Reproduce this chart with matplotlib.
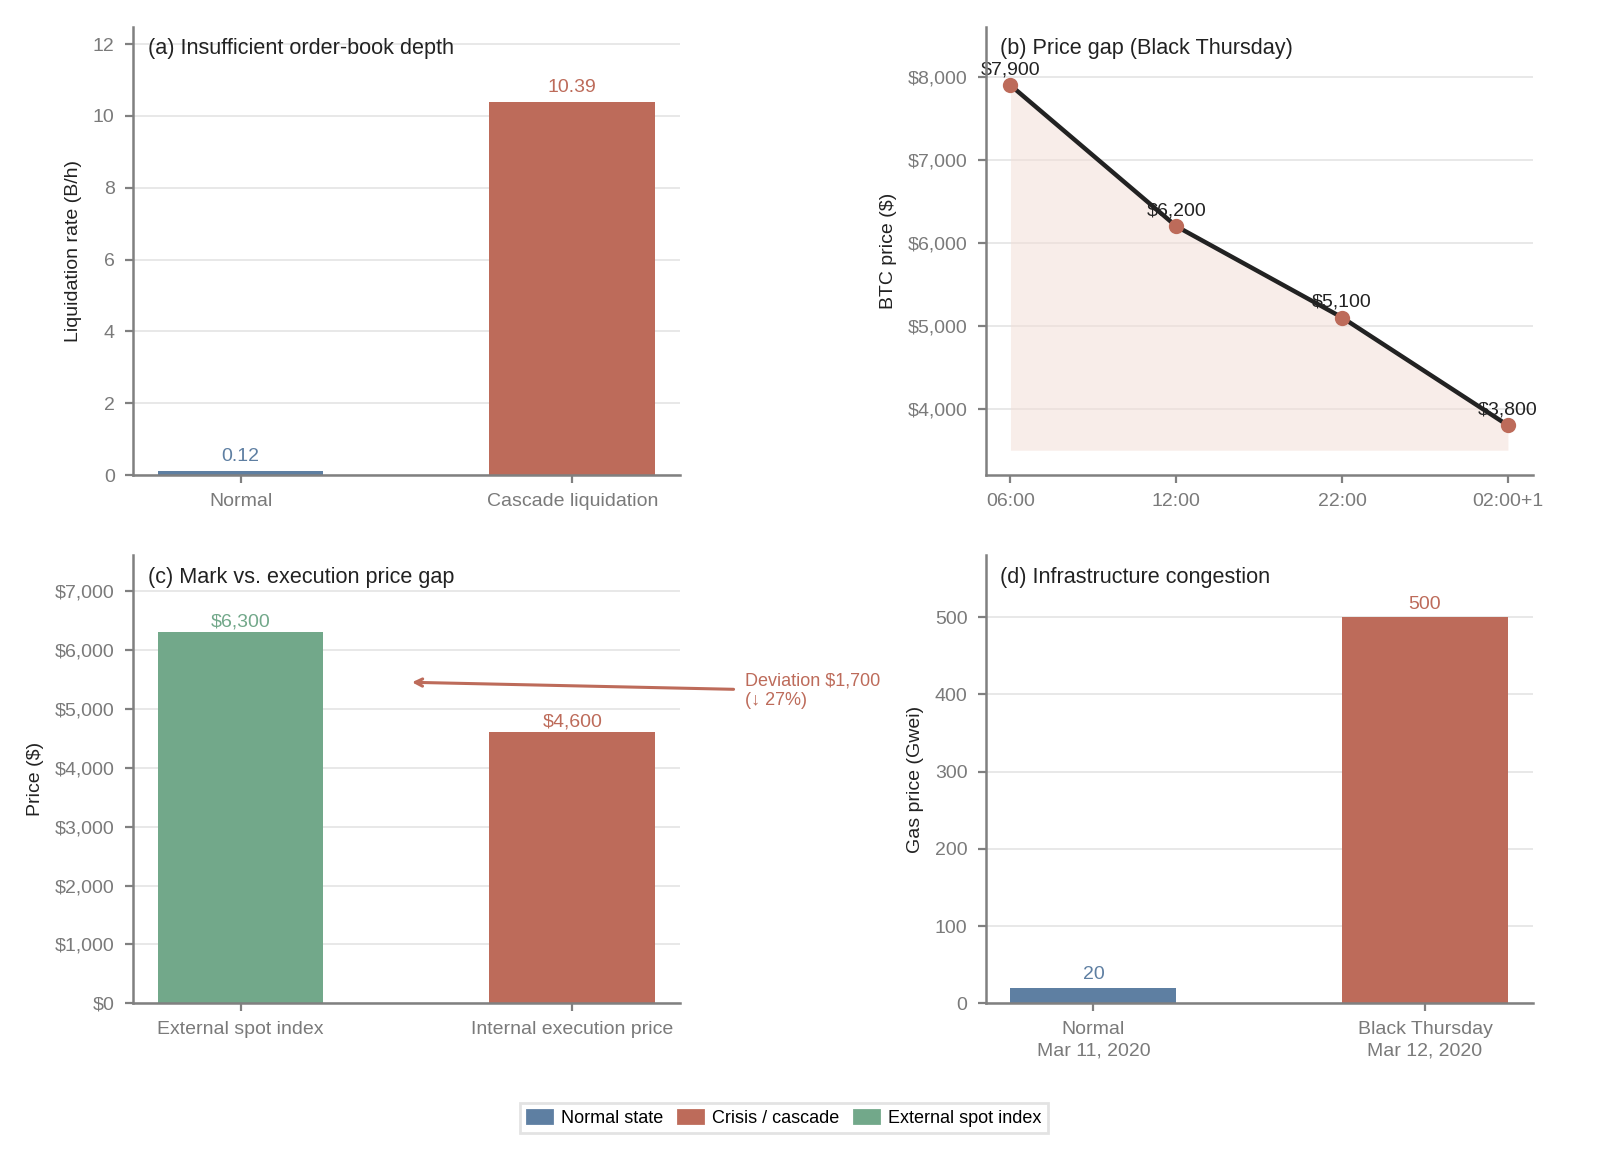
import matplotlib.pyplot as plt

# colours
BLUE = '#5e7fa2'
RED = '#bd6b5a'
GREEN = '#72a88a'
GRAY = '#7a7a7a'
DARK = '#222222'

# (a) order-book depth
a_cats = ['Normal', 'Cascade liquidation']
a_vals = [0.12, 10.39]
a_labels = ['0.12', '10.39']

# (b) BTC price on Black Thursday
b_times = ['06:00', '12:00', '22:00', '02:00+1']
b_prices = [7900, 6200, 5100, 3800]

# (c) mark vs execution price
c_cats = ['External spot index', 'Internal execution price']
c_vals = [6300, 4600]

# (d) gas price
d_cats = ['Normal\nMar 11, 2020', 'Black Thursday\nMar 12, 2020']
d_vals = [20, 500]

plt.rcParams['font.family'] = ['Liberation Sans', 'DejaVu Sans']
plt.rcParams['font.size'] = 7


def style_axes(ax):
    for s in ['top', 'right']:
        ax.spines[s].set_visible(False)
    for s in ['left', 'bottom']:
        ax.spines[s].set_color('#808080')
        ax.spines[s].set_linewidth(0.9)
    ax.tick_params(colors='#808080', labelcolor=GRAY, labelsize=7, length=3, width=0.8)
    ax.grid(axis='y', color='#e8e8e8', linewidth=0.7)
    ax.set_axisbelow(True)


def panel_title(ax, text):
    ax.text(0.027, 0.975, text, transform=ax.transAxes, ha='left', va='top',
            fontsize=7.8, color=DARK)


def money(v):
    return '${:,.0f}'.format(v)


fig = plt.figure(figsize=(8, 5.78), dpi=200)
ax_a = fig.add_axes([0.083, 0.589, 0.342, 0.3875])
ax_b = fig.add_axes([0.616, 0.589, 0.342, 0.3875])
ax_c = fig.add_axes([0.083, 0.132, 0.342, 0.3875])
ax_d = fig.add_axes([0.616, 0.132, 0.342, 0.3875])

# (a)
style_axes(ax_a)
xa = range(len(a_cats))
ax_a.bar(xa, a_vals, width=0.5, color=[BLUE, RED])
for x, v, lab, col in zip(xa, a_vals, a_labels, [BLUE, RED]):
    ax_a.text(x, v + 0.15, lab, ha='center', va='bottom', color=col, fontsize=7)
ax_a.set_xticks(list(xa))
ax_a.set_xticklabels(a_cats)
ax_a.set_ylim(0, 12.47)
ax_a.set_yticks([0, 2, 4, 6, 8, 10, 12])
ax_a.set_ylabel('Liquidation rate (B/h)', color=DARK, fontsize=7)
panel_title(ax_a, '(a) Insufficient order-book depth')

# (b)
style_axes(ax_b)
xb = list(range(len(b_times)))
ax_b.fill_between(xb, b_prices, 3500, color='#f3ddd5', alpha=0.5, linewidth=0)
ax_b.plot(xb, b_prices, color=DARK, linewidth=1.6, zorder=3)
ax_b.plot(xb, b_prices, 'o', color=RED, markersize=4.5, zorder=4)
for x, v in zip(xb, b_prices):
    ax_b.text(x, v + 80, money(v), ha='center', va='bottom', color=DARK, fontsize=7, zorder=2)
ax_b.set_xticks(xb)
ax_b.set_xticklabels(b_times)
ax_b.set_ylim(3200, 8600)
ax_b.set_yticks([4000, 5000, 6000, 7000, 8000])
ax_b.set_yticklabels([money(t) for t in [4000, 5000, 6000, 7000, 8000]])
ax_b.set_ylabel('BTC price ($)', color=DARK, fontsize=7)
panel_title(ax_b, '(b) Price gap (Black Thursday)')

# (c)
style_axes(ax_c)
xc = range(len(c_cats))
ax_c.bar(xc, c_vals, width=0.5, color=[GREEN, RED])
for x, v, col in zip(xc, c_vals, [GREEN, RED]):
    ax_c.text(x, v + 30, money(v), ha='center', va='bottom', color=col, fontsize=7)
ax_c.set_xticks(list(xc))
ax_c.set_xticklabels(c_cats)
ax_c.set_ylim(0, 7600)
c_ticks = list(range(0, 7001, 1000))
ax_c.set_yticks(c_ticks)
ax_c.set_yticklabels([money(t) for t in c_ticks])
ax_c.set_ylabel('Price ($)', color=DARK, fontsize=7)
panel_title(ax_c, '(c) Mark vs. execution price gap')
gap = c_vals[0] - c_vals[1]
ax_c.annotate('Deviation {}\n(\u2193 {:.0f}%)'.format(money(gap), gap / c_vals[0] * 100),
              xy=(0.5, (c_vals[0] + c_vals[1]) / 2), xytext=(1.52, 5300),
              ha='left', va='center', color=RED, fontsize=6.5, annotation_clip=False,
              arrowprops=dict(arrowstyle='->', color=RED, lw=1.1))

# (d)
style_axes(ax_d)
xd = range(len(d_cats))
ax_d.bar(xd, d_vals, width=0.5, color=[BLUE, RED])
for x, v, col in zip(xd, d_vals, [BLUE, RED]):
    ax_d.text(x, v + 6, str(v), ha='center', va='bottom', color=col, fontsize=7)
ax_d.set_xticks(list(xd))
ax_d.set_xticklabels(d_cats)
for lab in ax_d.get_xticklabels():
    lab.set_linespacing(1.3)
ax_d.set_ylim(0, 580)
ax_d.set_yticks([0, 100, 200, 300, 400, 500])
ax_d.set_ylabel('Gas price (Gwei)', color=DARK, fontsize=7)
panel_title(ax_d, '(d) Infrastructure congestion')

# shared legend
handles = [plt.Rectangle((0, 0), 1, 1, color=c) for c in [BLUE, RED, GREEN]]
fig.legend(handles, ['Normal state', 'Crisis / cascade', 'External spot index'],
           loc='lower center', bbox_to_anchor=(0.49, 0.012), ncol=3, fontsize=6.5,
           frameon=True, edgecolor='#dddddd', fancybox=False, borderpad=0.35,
           handlelength=1.4, handleheight=0.7, columnspacing=0.8, handletextpad=0.5)

fig.savefig('out.png', dpi=200)
